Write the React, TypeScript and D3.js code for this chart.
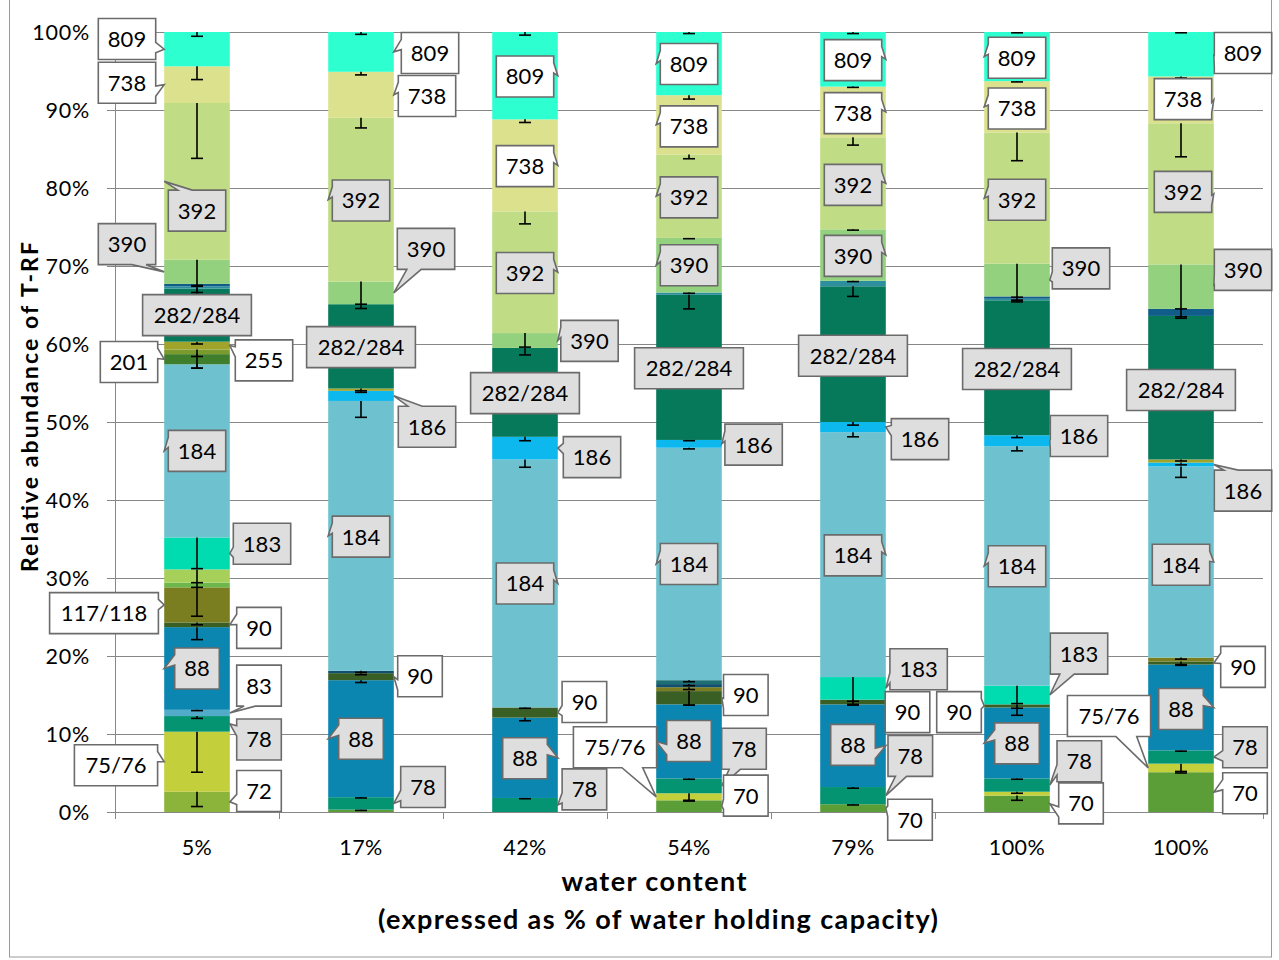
import React from 'react';
import * as d3 from 'd3';

// Water content treatments (x categories)
const categories = ['5%', '17%', '42%', '54%', '79%', '100%', '100%'];
const yTicks = [0, 10, 20, 30, 40, 50, 60, 70, 80, 90, 100];

// Relative abundance (%) of each T-RF, one value per treatment, stacked bottom to top
const t70 = [0, 0.3, 0, 1.5, 1.0, 2.1, 5.1];
const t72 = [2.6, 0, 0, 0, 0, 0, 0];
const t75_76 = [7.7, 0, 0, 0.9, 0, 0.5, 1.1];
const t78 = [2.0, 1.6, 1.8, 1.9, 2.2, 1.7, 1.7];
const t83 = [0.8, 0, 0, 0, 0, 0, 0];
const t88 = [10.6, 15.0, 10.3, 9.5, 10.6, 9.1, 11.0];
const t90 = [0.6, 0.9, 1.3, 1.7, 0.6, 0.4, 0.4];
const t117_118 = [4.5, 0, 0, 0.5, 0, 0, 0.5];
const tMinorA = [0.6, 0, 0, 0, 0, 0, 0];
const tMinorB = [1.7, 0, 0, 0, 0, 0, 0];
const tMinorC = [0, 0.3, 0, 0.4, 0, 0, 0];
const tMinorD = [0, 0, 0, 0.5, 0, 0, 0];
const t183 = [4.1, 0, 0, 0, 2.9, 2.4, 0];
const t184 = [22.2, 34.6, 31.8, 29.8, 31.4, 30.7, 24.5];
const t186 = [0, 1.3, 2.9, 1.0, 1.3, 1.4, 0.5];
const t201 = [1.3, 0, 0, 0, 0, 0, 0];
const tMinorE = [0.6, 0, 0, 0, 0, 0, 0];
const t255 = [1.0, 0.3, 0, 0, 0, 0, 0.4];
const t282_284 = [6.8, 10.8, 11.4, 18.6, 17.4, 17.3, 18.4];
const tMinorF = [0.3, 0, 0, 0.3, 0.7, 0.2, 0];
const tMinorG = [0.3, 0, 0, 0, 0, 0.3, 0.9];
const t390 = [3.1, 2.9, 1.9, 7.0, 6.6, 4.2, 5.7];
const t392 = [20.1, 21.0, 15.6, 10.7, 11.8, 16.8, 18.1];
const t738 = [4.7, 5.9, 11.8, 7.6, 6.5, 6.6, 6.0];
const t809 = [4.4, 5.1, 11.2, 8.1, 7.0, 6.3, 5.7];

// Standard deviations (drawn as minus error bars from each segment's top)
const e70 = [0, 0.1, 0, 0.1, 0.1, 0.6, 0.1];
const e72 = [1.9, 0, 0, 0, 0, 0, 0];
const e75_76 = [5.2, 0, 0, 0.9, 0, 0.2, 1.0];
const e78 = [0.3, 0.1, 0.1, 0.1, 0.15, 0.1, 0.1];
const e83 = [0.1, 0, 0, 0, 0, 0, 0];
const e88 = [1.6, 0.3, 0.4, 0.1, 0.1, 0.1, 0.1];
const e90 = [0.3, 0.2, 0.1, 1.8, 0.6, 1.4, 0.4];
const e117_118 = [3.7, 0, 0, 0.3, 0, 0, 0.2];
const eMinorA = [0.6, 0, 0, 0, 0, 0, 0];
const eMinorB = [1.7, 0, 0, 0, 0, 0, 0];
const eMinorC = [0, 0.2, 0, 0.2, 0, 0, 0];
const eMinorD = [0, 0, 0, 0.2, 0, 0, 0];
const e183 = [4.0, 0, 0, 0, 3.1, 2.3, 0];
const e184 = [0.5, 2.1, 1.0, 0.15, 0.6, 0.6, 1.4];
const e186 = [0, 0.2, 0.5, 0.1, 0.4, 0.3, 0.3];
const e201 = [1.8, 0, 0, 0, 0, 0, 0];
const eMinorE = [0.9, 0, 0, 0, 0, 0, 0];
const e255 = [0.3, 0.3, 0, 0, 0, 0, 0.2];
const e282_284 = [1.0, 0.55, 0.9, 1.8, 1.3, 0.2, 0.3];
const eMinorF = [0.8, 0, 0, 0.1, 0.1, 0.2, 0];
const eMinorG = [0.3, 0, 0, 0, 0, 0.1, 1.0];
const e390 = [3.3, 2.9, 1.8, 0.1, 0.1, 4.7, 5.7];
const e392 = [7.1, 1.3, 1.6, 0.55, 1.0, 3.6, 4.3];
const e738 = [1.7, 0.4, 0.4, 0.5, 0.1, 0.1, 0.2];
const e809 = [0.55, 0.3, 0.4, 0.2, 0.2, 0.1, 0.1];

// Series table: [key, label text, values, errors]
const series: [string, string, number[], number[]][] = [
  ['s70', '70', t70, e70],
  ['s72', '72', t72, e72],
  ['s75', '75/76', t75_76, e75_76],
  ['s78', '78', t78, e78],
  ['s83', '83', t83, e83],
  ['s88', '88', t88, e88],
  ['s90', '90', t90, e90],
  ['s117', '117/118', t117_118, e117_118],
  ['mA', '', tMinorA, eMinorA],
  ['mB', '', tMinorB, eMinorB],
  ['mC', '', tMinorC, eMinorC],
  ['mD', '', tMinorD, eMinorD],
  ['s183', '183', t183, e183],
  ['s184', '184', t184, e184],
  ['s186', '186', t186, e186],
  ['s201', '201', t201, e201],
  ['mE', '', tMinorE, eMinorE],
  ['s255', '255', t255, e255],
  ['s282', '282/284', t282_284, e282_284],
  ['mF', '', tMinorF, eMinorF],
  ['mG', '', tMinorG, eMinorG],
  ['s390', '390', t390, e390],
  ['s392', '392', t392, e392],
  ['s738', '738', t738, e738],
  ['s809', '809', t809, e809],
];

const colors: Record<string, string> = {
  s70: '#5b9e38', s72: '#8cb43a', s75: '#c3cf3b', s78: '#049472', s83: '#52acc9',
  s88: '#0b86b1', s90: '#3a5f24', s117: '#7a7e21', mA: '#6db84b', mB: '#a7d05b',
  mC: '#11506e', mD: '#1e6f74', s183: '#00dcb0', s184: '#6ec2cf', s186: '#0cb8ee',
  s201: '#3f7e2d', mE: '#7b9c2d', s255: '#a0a42a', s282: '#05795a', mF: '#2d8f9d',
  mG: '#0f5d88', s390: '#93d17e', s392: '#c0dc84', s738: '#dbe18c', s809: '#2effd1',
};

// Callout fill per label group
const whiteCallouts = ['809', '738', '201', '255', '117/118', '90', '83', '75/76', '72', '70'];

// Callout placement: [bar index, series key, box dx from bar centre (px), box centre (% units), side of bar the wedge points to]
const callouts: [number, string, number, number, 'L' | 'R'][] = [
  [0, 's809', -70, 99.1, 'L'], [0, 's738', -70, 93.5, 'L'], [0, 's392', 0, 77.1, 'L'],
  [0, 's390', -70, 72.8, 'L'], [0, 's282', 0, 63.7, 'L'], [0, 's201', -68, 57.7, 'L'],
  [0, 's255', 67, 57.9, 'R'], [0, 's184', 0, 46.3, 'L'], [0, 's183', 65, 34.4, 'R'],
  [0, 's117', -93, 25.5, 'L'], [0, 's90', 62, 23.6, 'R'], [0, 's88', 0, 18.4, 'L'],
  [0, 's83', 62, 16.2, 'R'], [0, 's78', 62, 9.3, 'R'], [0, 's75', -81, 6.0, 'L'],
  [0, 's72', 62, 2.7, 'R'],

  [1, 's809', 69, 97.3, 'R'], [1, 's738', 66, 91.8, 'R'], [1, 's392', 0, 78.4, 'L'],
  [1, 's390', 65, 72.2, 'R'], [1, 's282', 0, 59.6, 'L'], [1, 's186', 66, 49.4, 'R'],
  [1, 's184', 0, 35.3, 'L'], [1, 's90', 59, 17.4, 'R'], [1, 's88', 0, 9.4, 'L'],
  [1, 's78', 62, 3.2, 'R'],

  [2, 's809', 0, 94.3, 'R'], [2, 's738', 0, 82.8, 'R'], [2, 's392', 0, 69.1, 'R'],
  [2, 's390', 64.5, 60.4, 'R'], [2, 's282', 0, 53.7, 'L'], [2, 's186', 67, 45.5, 'R'],
  [2, 's184', 0, 29.3, 'R'], [2, 's90', 59.4, 14.1, 'R'], [2, 's88', 0, 6.9, 'R'],
  [2, 's78', 59.4, 2.9, 'R'],

  [3, 's809', 0, 95.9, 'L'], [3, 's738', 0, 87.9, 'L'], [3, 's392', 0, 78.8, 'L'],
  [3, 's390', 0, 70.1, 'L'], [3, 's282', 0, 56.9, 'L'], [3, 's186', 64.6, 47.1, 'R'],
  [3, 's184', 0, 31.8, 'L'], [3, 's90', 56.8, 15.0, 'R'], [3, 's88', 0, 9.1, 'L'],
  [3, 's78', 55, 8.1, 'R'], [3, 's75', -74, 8.3, 'L'], [3, 's70', 56.8, 2.1, 'R'],

  [4, 's809', 0, 96.4, 'R'], [4, 's738', 0, 89.6, 'R'], [4, 's392', 0, 80.4, 'R'],
  [4, 's390', 0, 71.3, 'R'], [4, 's282', 0, 58.5, 'R'], [4, 's186', 67, 47.8, 'R'],
  [4, 's184', 0, 32.9, 'R'], [4, 's183', 65.6, 18.3, 'R'], [4, 's90', 54.5, 12.8, 'R'],
  [4, 's88', 0, 8.6, 'R'], [4, 's78', 57.3, 7.2, 'R'], [4, 's70', 57, -1.0, 'R'],

  [5, 's809', 0, 96.7, 'L'], [5, 's738', 0, 90.2, 'L'], [5, 's392', 0, 78.5, 'L'],
  [5, 's390', 64, 69.7, 'R'], [5, 's282', 0, 56.8, 'L'], [5, 's186', 62, 48.2, 'R'],
  [5, 's184', 0, 31.5, 'L'], [5, 's183', 62, 20.3, 'R'], [5, 's90', -58, 12.8, 'L'],
  [5, 's88', 0, 8.8, 'L'], [5, 's78', 62.3, 6.5, 'R'], [5, 's70', 64, 1.1, 'R'],

  [6, 's809', 62, 97.3, 'R'], [6, 's738', 2, 91.4, 'R'], [6, 's392', 2, 79.5, 'R'],
  [6, 's390', 62, 69.5, 'R'], [6, 's282', 0, 54.1, 'R'], [6, 's186', 62, 41.2, 'R'],
  [6, 's184', 0, 31.7, 'R'], [6, 's90', 62, 18.6, 'R'], [6, 's88', 0, 13.2, 'R'],
  [6, 's78', 64, 8.3, 'R'], [6, 's70', 64, 2.4, 'R'], [6, 's75', -72, 12.3, 'L'],
];

const FONT = 'Lato, "Open Sans", sans-serif';
const BOX_H = 41;

function boxWidth(s: string) {
  let w = 19;
  for (const ch of s) w += ch === '/' ? 13 : 12.8;
  return w;
}

// Rectangular callout with a wedge pointing at (tx, ty)
function calloutPath(l: number, t: number, w: number, h: number, tx: number, ty: number) {
  const r = l + w, b = t + h, cx = l + w / 2, cy = t + h / 2;
  if (tx >= l && tx <= r && ty >= t && ty <= b) {
    return `M${l},${t}H${r}V${b}H${l}Z`;
  }
  const dx = tx - cx, dy = ty - cy;
  if (Math.abs(dy) / h > Math.abs(dx) / w) {
    const x1 = l + (w * (dx > 0 ? 7 : 2)) / 12;
    const x2 = l + (w * (dx > 0 ? 10 : 5)) / 12;
    if (dy < 0) return `M${l},${t}L${x1},${t}L${tx},${ty}L${x2},${t}L${r},${t}L${r},${b}L${l},${b}Z`;
    return `M${l},${t}L${r},${t}L${r},${b}L${x2},${b}L${tx},${ty}L${x1},${b}L${l},${b}Z`;
  }
  const y1 = t + (h * (dy > 0 ? 7 : 2)) / 12;
  const y2 = t + (h * (dy > 0 ? 10 : 5)) / 12;
  if (dx > 0) return `M${l},${t}L${r},${t}L${r},${y1}L${tx},${ty}L${r},${y2}L${r},${b}L${l},${b}Z`;
  return `M${l},${t}L${r},${t}L${r},${b}L${l},${b}L${l},${y2}L${tx},${ty}L${l},${y1}Z`;
}

export default function App() {
  const width = 1279, height = 960;
  const x = d3.scaleBand<number>()
    .domain(d3.range(categories.length))
    .range([115, 1263])
    .paddingInner(0.6)
    .paddingOuter(0.3);
  const y = d3.scaleLinear().domain([0, 100]).range([812, 32]);

  const keys = series.map((s) => s[0]);
  const rows = categories.map((_, i) => {
    const r: Record<string, number> = {};
    series.forEach(([k, , v]) => (r[k] = v[i]));
    return r;
  });
  const stacked = d3.stack<Record<string, number>>().keys(keys)(rows);
  const byKey: Record<string, d3.Series<Record<string, number>, string>> = {};
  stacked.forEach((s) => (byKey[s.key] = s));
  const labelOf: Record<string, string> = {};
  series.forEach(([k, lab]) => (labelOf[k] = lab));

  const bw = x.bandwidth();
  const step = x.step();
  const gridColor = '#878787';

  return (
    <div style={{ position: 'absolute', left: 0, top: 0 }}>
      <svg width={width} height={height} style={{ display: 'block', background: '#fff' }}>
        <rect x={9.5} y={-1} width={1262} height={958} fill="#fff" stroke="#9a9a9a" strokeWidth={1} />

        {/* gridlines and y ticks */}
        {yTicks.map((t) => (
          <g key={t}>
            <line x1={107} x2={1263} y1={Math.round(y(t)) + 0.5} y2={Math.round(y(t)) + 0.5} stroke={gridColor} strokeWidth={1} />
            <text x={90} y={y(t)} dy="0.35em" textAnchor="end" fontFamily={FONT} fontSize={21.5} letterSpacing={0.8} fill="#000">{t}%</text>
          </g>
        ))}
        <line x1={115.5} x2={115.5} y1={y(100)} y2={y(0)} stroke={gridColor} strokeWidth={1} />
        {d3.range(categories.length + 1).map((i) => (
          <line key={i} x1={Math.round(115 + i * step) + 0.5} x2={Math.round(115 + i * step) + 0.5} y1={y(0)} y2={y(0) + 7} stroke={gridColor} strokeWidth={1} />
        ))}

        {/* stacked bars */}
        {stacked.map((s) => (
          <g key={s.key} fill={colors[s.key]}>
            {s.map((d, i) =>
              d[1] - d[0] > 0 ? (
                <rect key={i} x={x(i)} width={bw} y={y(d[1])} height={y(d[0]) - y(d[1])} />
              ) : null
            )}
          </g>
        ))}

        {/* error bars (minus direction, capped) */}
        {series.map(([k, , v, e]) => (
          <g key={k} stroke="#000" strokeWidth={1.6}>
            {byKey[k].map((d, i) => {
              if (!(v[i] > 0) || !(e[i] > 0)) return null;
              const cx = (x(i) as number) + bw / 2;
              const y1 = y(d[1]);
              const y2 = y(d[1] - e[i]);
              return (
                <g key={i}>
                  <line x1={cx} x2={cx} y1={y1} y2={y2} />
                  <line x1={cx - 6} x2={cx + 6} y1={y2} y2={y2} />
                </g>
              );
            })}
          </g>
        ))}

        {/* data callouts */}
        {callouts.map(([bi, k, dx, ly, side], idx) => {
          const d = byKey[k][bi];
          const text = labelOf[k];
          const w = boxWidth(text);
          const bx = (x(bi) as number) + bw / 2 + dx;
          const by = y(ly);
          const tx = side === 'L' ? (x(bi) as number) : (x(bi) as number) + bw;
          const ty = y((d[0] + d[1]) / 2);
          const fill = whiteCallouts.includes(text) ? '#ffffff' : '#dedede';
          return (
            <g key={idx}>
              <path d={calloutPath(bx - w / 2, by - BOX_H / 2, w, BOX_H, tx, ty)} fill={fill} stroke="#6b6b6b" strokeWidth={1.6} strokeLinejoin="miter" />
              <text x={bx} y={by} dy="0.36em" textAnchor="middle" fontFamily={FONT} fontSize={22} fill="#000">{text}</text>
            </g>
          );
        })}

        {/* category labels */}
        {categories.map((c, i) => (
          <text key={i} x={(x(i) as number) + bw / 2} y={847} dy="0.35em" textAnchor="middle" fontFamily={FONT} fontSize={21.5} letterSpacing={0.5} fill="#000">{c}</text>
        ))}

        {/* axis titles */}
        <text x={654} y={882} dy="0.35em" textAnchor="middle" fontFamily={FONT} fontWeight="bold" fontSize={27} textLength={185} lengthAdjust="spacing" fill="#000">water content</text>
        <text x={658} y={920} dy="0.35em" textAnchor="middle" fontFamily={FONT} fontWeight="bold" fontSize={27} textLength={560} lengthAdjust="spacing" fill="#000">(expressed as % of water holding capacity)</text>
        <text transform="translate(30,407) rotate(-90)" dy="0.35em" textAnchor="middle" fontFamily={FONT} fontWeight="bold" fontSize={23} textLength={330} lengthAdjust="spacing" fill="#000">Relative abundance of T-RF</text>
      </svg>
    </div>
  );
}
